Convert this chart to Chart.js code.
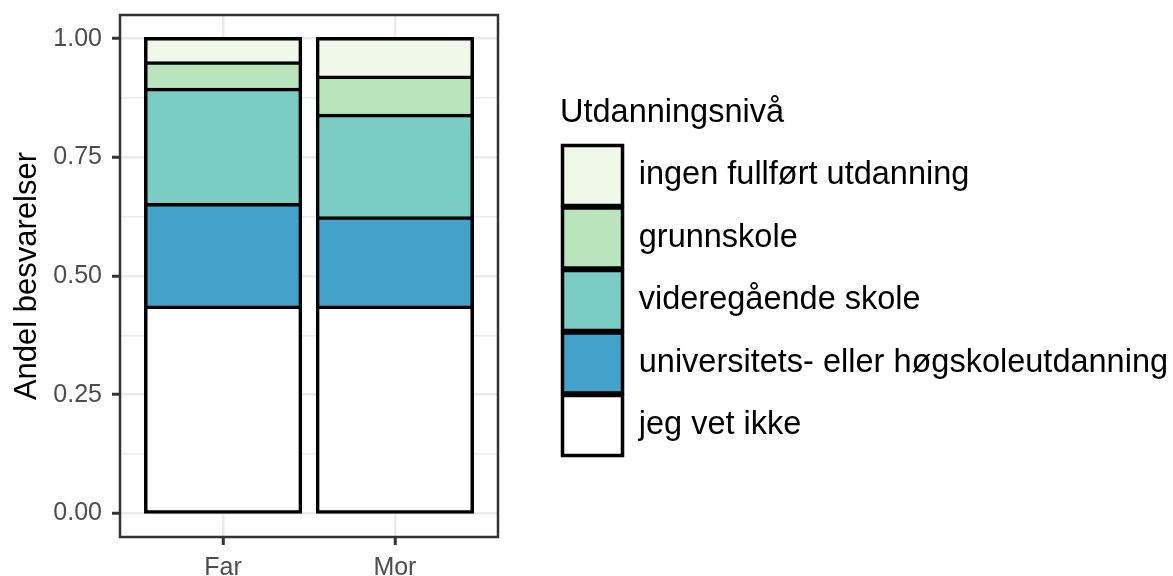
<!DOCTYPE html>
<html>
<head>
<meta charset="utf-8">
<script src="https://cdn.jsdelivr.net/npm/chart.js@4"></script>
<style>
  html, body { margin: 0; padding: 0; background: #fff; }
  #wrap { width: 1173px; height: 576px; }
</style>
</head>
<body>
<div id="wrap"><canvas id="chart"></canvas></div>
<script>
// Data
const categories = ['Far', 'Mor'];
const levels = ['jeg vet ikke', 'universitets- eller høgskoleutdanning', 'videregående skole', 'grunnskole', 'ingen fullført utdanning'];
const jegVetIkke = [0.434, 0.434];
const universitet = [0.216, 0.188];
const videregaende = [0.243, 0.216];
const grunnskole = [0.056, 0.081];
const ingenUtdanning = [0.051, 0.081];
const levelColors = ['#FFFFFF', '#43A2CA', '#7BCCC4', '#BAE4BC', '#F0F9E8'];

const yMajor = [0, 0.25, 0.5, 0.75, 1];
const yMinor = [0.125, 0.375, 0.625, 0.875];
const yTickLabels = ['0.00', '0.25', '0.50', '0.75', '1.00'];

const FONT = "'Liberation Sans', Arial, sans-serif";
Chart.defaults.font.family = FONT;

// Build datasets (bottom to top)
const series = [jegVetIkke, universitet, videregaende, grunnskole, ingenUtdanning];
const datasets = series.map(function(vals, k){
  return {
    label: levels[k],
    data: categories.map(function(c, i){ return {x: i + 1, y: vals[i]}; }),
    backgroundColor: levelColors[k],
    borderColor: '#000000',
    borderWidth: 3.5,
    borderSkipped: k === 0 ? false : 'start',
    inflateAmount: 1.75,
    barPercentage: 0.9,
    categoryPercentage: 1.0,
  };
});

// Panel border like ggplot theme_bw
const panelBorder = {
  id: 'panelBorder',
  afterDraw(chart){
    const a = chart.chartArea, ctx = chart.ctx;
    ctx.save();
    ctx.strokeStyle = '#333333';
    ctx.lineWidth = 2.5;
    ctx.strokeRect(a.left, a.top, a.right - a.left, a.bottom - a.top);
    ctx.restore();
  }
};

const config = {
  type: 'bar',
  data: { datasets },
  options: {
    responsive: true,
    maintainAspectRatio: false,
    animation: false,
    events: [],
    layout: { padding: { top: 15, right: 2.5, bottom: 0, left: 0 } },
    scales: {
      x: {
        type: 'linear',
        stacked: true,
        offset: false,
        min: 0.4,
        max: 2.6,
        afterBuildTicks(s){ s.ticks = categories.map(function(c, i){ return {value: i + 1}; }); },
        afterFit(s){ s.height = 39; s.paddingLeft = 0; s.paddingRight = 0; },
        ticks: {
          color: '#4D4D4D',
          font: { size: 25 },
          padding: 8,
          callback: function(v){ return categories[v - 1]; }
        },
        grid: {
          offset: false,
          color: '#EBEBEB',
          lineWidth: 2.5,
          tickColor: '#333333',
          tickLength: 8,
          tickWidth: 3
        },
        border: { display: false }
      },
      y: {
        stacked: true,
        min: -0.05,
        max: 1.05,
        afterBuildTicks(s){
          s.ticks = yMajor.concat(yMinor).sort(function(a, b){ return a - b; }).map(function(v){ return {value: v}; });
        },
        afterFit(s){ s.width = 120; s.paddingTop = 0; s.paddingBottom = 0; },
        ticks: {
          color: '#4D4D4D',
          font: { size: 25 },
          padding: 10,
          callback: function(v){
            const i = yMajor.indexOf(v);
            return i >= 0 ? yTickLabels[i] : '';
          }
        },
        grid: {
          color: '#EBEBEB',
          lineWidth: function(c){ return yMajor.includes(c.tick.value) ? 2.5 : 1.5; },
          tickColor: function(c){ return yMajor.includes(c.tick.value) ? '#333333' : 'rgba(0,0,0,0)'; },
          tickLength: 8,
          tickWidth: 3
        },
        border: { display: false },
        title: {
          display: true,
          text: 'Andel besvarelser',
          color: '#000000',
          font: { size: 31 },
          padding: { top: 9, bottom: 0 }
        }
      },
      // spacer between panel and legend
      gap: {
        type: 'linear',
        position: 'right',
        display: true,
        afterFit(s){ s.width = 62; s.paddingTop = 0; s.paddingBottom = 0; },
        grid: { display: false },
        ticks: { display: false },
        border: { display: false }
      }
    },
    plugins: {
      tooltip: { enabled: false },
      legend: {
        position: 'right',
        align: 'start',
        reverse: true,
        maxWidth: 610.5,
        title: {
          display: true,
          text: 'Utdanningsnivå',
          color: '#000000',
          position: 'start',
          font: { size: 32.5 },
          padding: { top: 82, bottom: 7 }
        },
        labels: {
          color: '#000000',
          font: { size: 32.5 },
          boxWidth: 60,
          boxHeight: 60,
          padding: 2.5
        }
      }
    }
  },
  plugins: [panelBorder]
};

const RESULT_CHART = new Chart(document.getElementById('chart'), config);
</script>
</body>
</html>
